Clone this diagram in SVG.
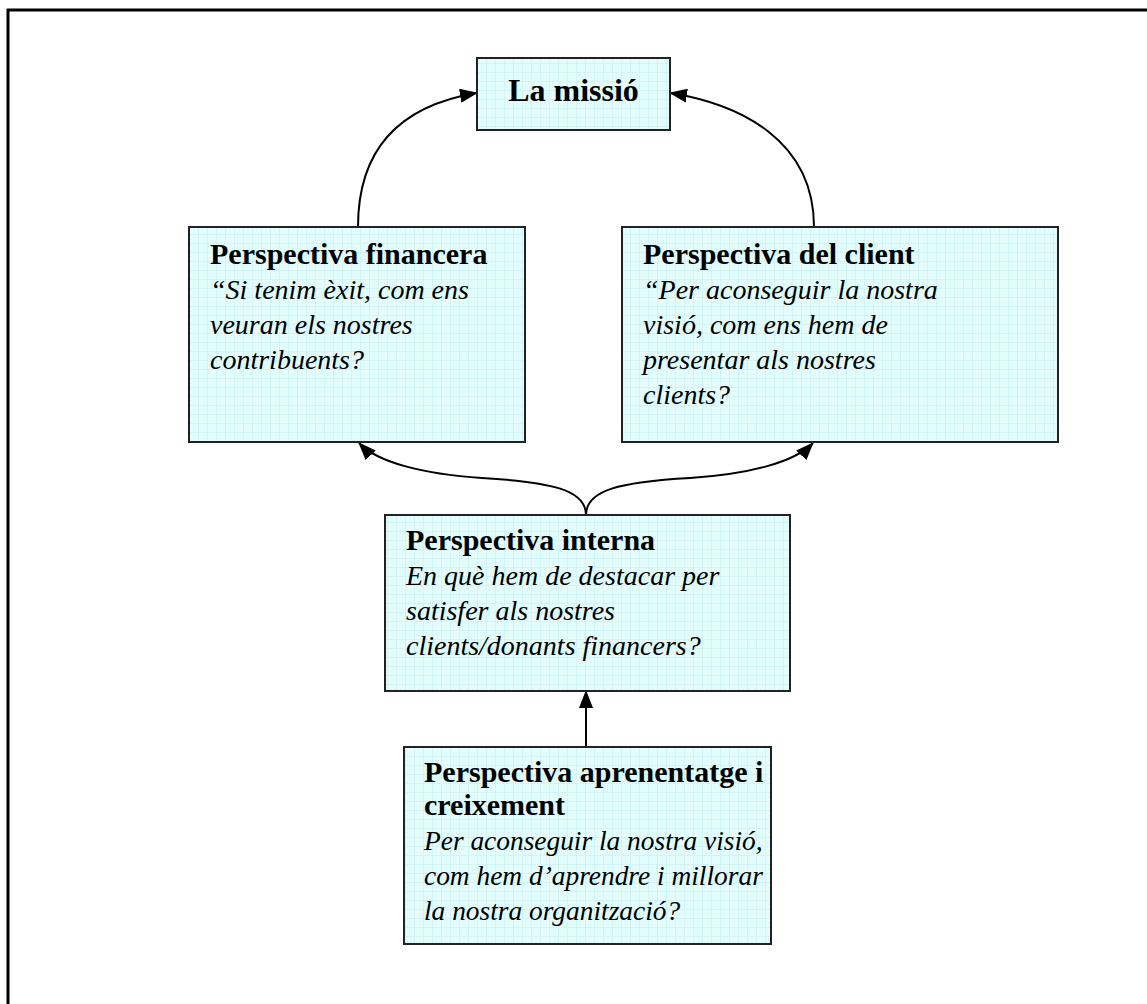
<svg xmlns="http://www.w3.org/2000/svg" width="1147" height="1004" viewBox="0 0 1147 1004">
  <defs>
    <!-- light cyan graph-paper fill used by every box -->
    <pattern id="grid" width="9" height="9" patternUnits="userSpaceOnUse">
      <rect width="9" height="9" fill="#e3fcfc"/>
      <path d="M0 0.5H9M0.5 0V9" stroke="#d2f4f6" stroke-width="1"/>
      <circle cx="5" cy="5" r="0.5" fill="#d6f5f7"/>
    </pattern>
    <marker id="arrow" viewBox="0 0 18 14" refX="17" refY="7" markerWidth="18" markerHeight="14" markerUnits="userSpaceOnUse" orient="auto">
      <path d="M0 0L18 7L0 14Z" fill="#000"/>
    </marker>
    <style>
      .box { fill: url(#grid); stroke: #222; stroke-width: 2; }
      .conn { fill: none; stroke: #000; stroke-width: 2; marker-end: url(#arrow); }
      .t { font-family: "Liberation Serif", "Times New Roman", serif; fill: #000; }
      .b { font-weight: bold; font-size: 30px; }
      .i { font-style: italic; font-size: 28px; }
      .narrow .i { font-size: 27.4px; }
    </style>
  </defs>

  <!-- page frame: top and left rules only -->
  <path d="M7 10H1147M8 9V1004" fill="none" stroke="#000" stroke-width="3"/>

  <g id="connectors">
    <path class="conn" d="M358 227C358 140 410 104 477 93"/>
    <path class="conn" d="M814 227C814 140 740 104 670 93"/>
    <path class="conn" d="M586 515C586 490 620 482 690 478C750 474 795 462 813 443"/>
    <path class="conn" d="M586 515C586 490 552 482 482 478C422 474 377 462 359 443"/>
    <path class="conn" d="M586 747V691"/>
  </g>

  <g id="missio">
    <rect class="box" x="477" y="58" width="193" height="72"/>
    <text class="t b" x="573.5" y="101" text-anchor="middle" style="font-size:32px">La missió</text>
  </g>

  <g id="financera">
    <rect class="box" x="189" y="227" width="336" height="215"/>
    <text class="t" x="210">
      <tspan class="b" x="210" y="264">Perspectiva financera</tspan>
      <tspan class="i" x="210" y="299">“Si tenim èxit, com ens</tspan>
      <tspan class="i" x="210" y="334">veuran els nostres</tspan>
      <tspan class="i" x="210" y="369">contribuents?</tspan>
    </text>
  </g>

  <g id="client">
    <rect class="box" x="622" y="227" width="436" height="215"/>
    <text class="t" x="643">
      <tspan class="b" x="643" y="264">Perspectiva del client</tspan>
      <tspan class="i" x="643" y="299">“Per aconseguir la nostra</tspan>
      <tspan class="i" x="643" y="334">visió, com ens hem de</tspan>
      <tspan class="i" x="643" y="369">presentar als nostres</tspan>
      <tspan class="i" x="643" y="404">clients?</tspan>
    </text>
  </g>

  <g id="interna">
    <rect class="box" x="385" y="515" width="405" height="176"/>
    <text class="t" x="406">
      <tspan class="b" x="406" y="550">Perspectiva interna</tspan>
      <tspan class="i" x="406" y="585">En què hem de destacar per</tspan>
      <tspan class="i" x="406" y="620">satisfer als nostres</tspan>
      <tspan class="i" x="406" y="655">clients/donants financers?</tspan>
    </text>
  </g>

  <g id="aprenentatge" class="narrow">
    <rect class="box" x="404" y="747" width="367" height="197"/>
    <text class="t" x="424">
      <tspan class="b" x="424" y="782">Perspectiva aprenentatge i</tspan>
      <tspan class="b" x="424" y="815">creixement</tspan>
      <tspan class="i" x="424" y="850">Per aconseguir la nostra visió,</tspan>
      <tspan class="i" x="424" y="885">com hem d’aprendre i millorar</tspan>
      <tspan class="i" x="424" y="920">la nostra organització?</tspan>
    </text>
  </g>
</svg>
